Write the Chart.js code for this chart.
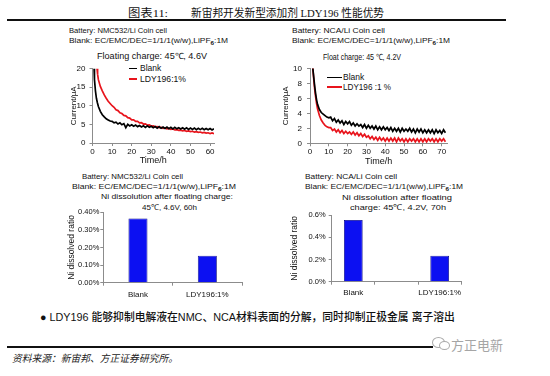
<!DOCTYPE html>
<html>
<head>
<meta charset="utf-8">
<script src="https://cdn.jsdelivr.net/npm/chart.js@4.4.1/dist/chart.umd.min.js"></script>
<style>
  html, body { margin: 0; padding: 0; background: #fff; }
  #page { position: relative; width: 550px; height: 376px; overflow: hidden; background: #fff;
    font-family: Arial, "Liberation Sans", sans-serif; color: #111; }
  .t { position: absolute; white-space: nowrap; line-height: 1; transform-origin: 0 50%; }
  .s8 { font-size: 8px; }
  .s85 { font-size: 8.5px; }
  sub { font-size: 6px; vertical-align: -1.5px; line-height: 0; font-weight: bold; }
  canvas { position: absolute; }
  .rule { position: absolute; background: #111; }
  .leg { position: absolute; height: 1.5px; }
  .cjk { font-family: "Noto Sans CJK SC", sans-serif; }
  .bub { position: absolute; border: 1.3px solid #aaa; border-radius: 50%; background: #fff; }
</style>
</head>
<body>
<div id="page">
  <!-- header -->
  <div class="t" style="left:128px;top:8px;font-size:11px;font-family:'Liberation Serif','Noto Sans CJK SC',serif" data-w="40">图表11:</div>
  <div class="t" style="left:190.5px;top:8px;font-size:11px;font-family:'Liberation Serif','Noto Sans CJK SC',serif" data-w="193">新宙邦开发新型添加剂 LDY196 性能优势</div>
  <div class="rule" style="left:7px;top:18.5px;width:499px;height:2px"></div>

  <!-- top-left block -->
  <div class="t s8" style="left:69px;top:27px" data-w="98">Battery: NMC532/Li Coin cell</div>
  <div class="t s8" style="left:69px;top:37px" data-w="159">Blank: EC/EMC/DEC=1/1/1(w/w),LiPF<sub>6</sub>:1M</div>
  <div class="t s85" style="left:97px;top:52px" data-w="110">Floating charge: 45℃,  4.6V</div>

  <!-- top-right block -->
  <div class="t s8" style="left:292px;top:27px" data-w="93">Battery: NCA/Li Coin cell</div>
  <div class="t s8" style="left:292px;top:37px" data-w="158">Blank: EC/EMC/DEC=1/1/1(w/w),LiPF<sub>6</sub>:1M</div>
  <div class="t s85" style="left:323px;top:53px" data-w="78">Float charge: 45 ℃, 4.2V</div>

  <!-- bottom-left block -->
  <div class="t s8" style="left:82px;top:173px" data-w="101">Battery: NMC532/Li Coin cell</div>
  <div class="t s8" style="left:72px;top:183px" data-w="164">Blank:  EC/EMC/DEC=1/1/1(w/w),LiPF<sub>6</sub>:1M</div>
  <div class="t s8" style="left:100.5px;top:193px" data-w="132">Ni dissolution after floating charge:</div>
  <div class="t s8" style="left:141.5px;top:204px" data-w="55">45℃, 4.6V, 60h</div>

  <!-- bottom-right block -->
  <div class="t s8" style="left:305px;top:173px" data-w="92">Battery: NCA/Li Coin cell</div>
  <div class="t s8" style="left:305px;top:183px" data-w="158">Blank: EC/EMC/DEC=1/1/1(w/w),LiPF<sub>6</sub>:1M</div>
  <div class="t s8" style="left:341.5px;top:193.5px" data-w="110">Ni dissolution after floating</div>
  <div class="t s8" style="left:350px;top:203.5px" data-w="96">charge: 45℃, 4.2V, 70h</div>

  <!-- legends -->
  <div class="leg" style="left:129px;top:67.8px;width:8px;background:#000"></div>
  <div class="t s85" style="left:140px;top:64.3px">Blank</div>
  <div class="leg" style="left:129px;top:78px;width:8px;background:#e8141c"></div>
  <div class="t s85" style="left:140px;top:74.5px" data-w="46">LDY196:1%</div>

  <div class="leg" style="left:326.5px;top:76.8px;width:15px;background:#000"></div>
  <div class="t s85" style="left:343px;top:73.3px">Blank</div>
  <div class="leg" style="left:326.5px;top:86.3px;width:15px;background:#e8141c"></div>
  <div class="t s85" style="left:343px;top:82.8px" data-w="48">LDY196 :1 %</div>

  <canvas id="c1" width="165" height="110" style="left:69px;top:56px"></canvas>
  <canvas id="c2" width="189" height="111" style="left:281px;top:56px"></canvas>
  <canvas id="c3" width="188" height="101" style="left:67px;top:200px"></canvas>
  <canvas id="c4" width="185" height="98" style="left:290px;top:203px"></canvas>

  <!-- footer -->
  <div class="t cjk" style="left:40px;top:312px;font-size:11px;font-weight:500;font-family:Arial,'Liberation Sans','Noto Sans CJK SC',sans-serif" data-w="415">● LDY196 能够抑制电解液在NMC、NCA材料表面的分解，同时抑制正极金属 离子溶出</div>
  <div class="rule" style="left:7px;top:346px;width:426px;height:1.5px"></div>
  <div class="t cjk" style="left:12px;top:352.5px;font-size:10px;font-style:italic;color:#222" data-w="166">资料来源：新宙邦、方正证券研究所。</div>
  <div class="bub" style="left:432px;top:337px;width:11px;height:9px"></div>
  <div class="bub" style="left:439px;top:341px;width:9px;height:7px"></div>
  <div class="t cjk" style="left:451px;top:337.5px;font-size:13px;color:#a5a5a5" data-w="52">方正电新</div>
</div>

<script>
// NMC532/Li, floating charge 45C 4.6V
const nmcBlankTime = [0.8, 1, 1.5, 2, 2.5, 3, 4, 5, 6, 7, 8, 9,
  10, 11, 12, 13, 14, 15, 16, 17, 18, 19, 20, 21, 22, 23, 24, 25, 26, 27, 28, 29, 30,
  31, 32, 33, 34, 35, 36, 37, 38, 39, 40, 41, 42, 43, 44, 45, 46, 47, 48, 49, 50,
  51, 52, 53, 54, 55, 56, 57, 58, 59, 60, 61, 62];
const nmcBlankCurrent = [20, 17, 14, 12, 10.8, 9.8, 8.5, 7.6, 7.0, 6.5, 6.2, 5.9,
  5.8, 5.4, 5.6, 5.1, 5.4, 4.9, 5.2, 4.1, 5.0, 4.6, 4.9, 4.5, 4.8, 4.4, 4.7, 4.3, 4.6, 4.2, 4.6, 4.2, 4.5,
  4.1, 4.4, 4.0, 4.4, 3.95, 4.3, 3.9, 4.3, 3.85, 4.2, 3.8, 4.2, 3.8, 4.1, 3.75, 4.1, 3.7, 4.05, 3.65, 4.0,
  3.65, 4.0, 3.6, 3.95, 3.6, 3.95, 3.55, 3.9, 3.55, 3.9, 3.5, 3.85];
const nmcLdyTime = [2.3, 2.6, 3, 4, 5, 6, 7, 8, 9, 10,
  11, 12, 13, 14, 15, 16, 17, 18, 19, 20, 21, 22, 23, 24, 25, 26, 27, 28, 29, 30,
  31, 32, 33, 34, 35, 36, 37, 38, 39, 40, 41, 42, 43, 44, 45, 46, 47, 48, 49, 50,
  51, 52, 53, 54, 55, 56, 57, 58, 59, 60, 61, 62];
const nmcLdyCurrent = [20, 18.5, 17, 15.2, 14, 12.9, 12, 11.2, 10.6, 10.0,
  9.6, 8.9, 8.7, 8.1, 7.9, 7.4, 7.3, 6.8, 6.7, 6.2, 6.2, 5.8, 5.8, 5.4, 5.45, 5.1, 5.15, 4.8, 4.85, 4.55,
  4.6, 4.35, 4.4, 4.15, 4.2, 3.95, 4.05, 3.8, 3.9, 3.65, 3.75, 3.5, 3.6, 3.4, 3.45, 3.25, 3.35, 3.15, 3.25, 3.05,
  3.15, 2.95, 3.05, 2.85, 2.95, 2.75, 2.85, 2.65, 2.75, 2.55, 2.7, 2.5];

// NCA/Li, float charge 45C 4.2V
const ncaBlankTime = [1.5, 2, 2.5, 3, 3.5, 4, 5, 6, 7, 8, 9, 10,
  11, 12, 13, 14, 15, 16, 17, 18, 19, 20, 21, 22, 23, 24, 25, 26, 27, 28, 29, 30,
  31, 32, 33, 34, 35, 36, 37, 38, 39, 40, 41, 42, 43, 44, 45, 46, 47, 48, 49, 50,
  51, 52, 53, 54, 55, 56, 57, 58, 59, 60, 61, 62, 63, 64, 65, 66, 67, 68, 69, 70, 71, 72];
const ncaBlankCurrent = [10, 8.8, 7.6, 6.6, 5.8, 5.2, 4.5, 4.1, 3.9, 3.7, 3.5, 3.4,
  3.5, 3.0, 3.3, 2.8, 3.1, 2.7, 3.0, 2.5, 2.9, 2.6, 2.9, 2.4, 2.7, 2.3, 2.6, 2.3, 2.5, 2.1, 2.5, 2.0,
  2.4, 2.0, 2.3, 1.9, 2.3, 1.8, 2.2, 1.8, 2.2, 1.8, 2.1, 1.7, 2.1, 1.6, 2.0, 1.6, 2.0, 1.5, 2.0, 1.6,
  1.9, 1.6, 2.0, 1.5, 1.9, 1.4, 1.9, 1.5, 1.9, 1.4, 1.8, 1.4, 1.8, 1.4, 1.8, 1.3, 1.8, 1.4, 1.7, 1.3, 1.8, 1.4];
const ncaLdyTime = ncaBlankTime;
const ncaLdyCurrent = [10, 8.5, 7.2, 6.2, 5.3, 4.6, 3.7, 3.1, 2.7, 2.4, 2.2, 2.1,
  2.1, 1.7, 1.9, 1.5, 1.8, 1.4, 1.7, 1.3, 1.6, 1.3, 1.5, 1.2, 1.5, 1.1, 1.4, 1.0, 1.3, 0.9, 1.2, 0.8,
  1.0, 0.6, 0.9, 0.5, 0.8, 0.4, 0.8, 0.4, 0.7, 0.3, 0.7, 0.3, 0.7, 0.3, 0.7, 0.2, 0.7, 0.3, 0.6, 0.2,
  0.6, 0.2, 0.6, 0.3, 0.6, 0.2, 0.6, 0.2, 0.6, 0.2, 0.6, 0.2, 0.6, 0.3, 0.6, 0.2, 0.6, 0.2, 0.6, 0.3, 0.6, 0.2];

// Ni dissolved ratio (%)
const nmcBarLabels = ["Blank", "LDY196:1%"];
const nmcBarValues = [0.365, 0.153];
const ncaBarLabels = ["Blank", "", "LDY196:1%"];
const ncaBarValues = [0.555, null, 0.234];

Chart.defaults.font.family = 'Arial, "Liberation Sans", sans-serif';
Chart.defaults.font.size = 8;
Chart.defaults.color = "#111";
Chart.defaults.animation = false;

const axisGray = "#8c8c8c";
const blankColor = "#000000";
const ldyColor = "#e8141c";

function toPoints(t, v) {
  return t.map((x, i) => ({ x: x, y: v[i] }));
}

// box: yWidth, xHeight, padTop, padRight, yPad
function lineChart(id, box, blank, ldy, xMax, yMax, yStep) {
  return new Chart(document.getElementById(id), {
    type: "line",
    data: {
      datasets: [
        { label: "Blank", data: blank, borderColor: blankColor, borderWidth: 1.7, pointRadius: 0, tension: 0 },
        { label: "LDY196:1%", data: ldy, borderColor: ldyColor, borderWidth: 1.7, pointRadius: 0, tension: 0 },
      ],
    },
    options: {
      responsive: false,
      devicePixelRatio: 1,
      events: [],
      layout: { padding: { top: box.padTop, right: box.padRight, left: 0, bottom: 0 } },
      plugins: { legend: { display: false }, tooltip: { enabled: false } },
      scales: {
        x: {
          type: "linear",
          min: 0,
          max: xMax,
          ticks: { stepSize: 10, includeBounds: false, padding: 1, maxRotation: 0 },
          grid: { drawOnChartArea: false, tickLength: 3, color: axisGray },
          border: { color: axisGray },
          title: { display: true, text: "Time/h", font: { size: 9 }, padding: 0 },
          afterFit: (s) => { s.height = box.xHeight; },
        },
        y: {
          min: 0,
          max: yMax,
          ticks: { stepSize: yStep, padding: box.yPad },
          grid: { drawOnChartArea: false, tickLength: 3, color: axisGray },
          border: { color: axisGray },
          title: { display: true, text: "Current/μA", font: { size: 8 }, padding: 0 },
          afterFit: (s) => { s.width = box.yWidth; },
        },
      },
    },
  });
}

function barChart(id, box, labels, values, yMax, digits) {
  return new Chart(document.getElementById(id), {
    type: "bar",
    data: {
      labels: labels,
      datasets: [
        {
          data: values,
          backgroundColor: "#0c10f2",
          borderColor: "#00007a",
          borderWidth: 0.8,
          categoryPercentage: 1,
          barPercentage: box.barPct,
        },
      ],
    },
    options: {
      responsive: false,
      devicePixelRatio: 1,
      events: [],
      layout: { padding: { top: box.padTop, right: box.padRight, left: 0, bottom: 0 } },
      plugins: { legend: { display: false }, tooltip: { enabled: false } },
      scales: {
        x: {
          ticks: { padding: box.xPad, maxRotation: 0, autoSkip: false },
          grid: { drawOnChartArea: false, tickLength: 3, color: axisGray },
          border: { color: axisGray },
          afterFit: (s) => { s.height = box.xHeight; },
        },
        y: {
          min: 0,
          max: yMax,
          ticks: { stepSize: 0.1, padding: box.yPad, font: { size: 7.5 },
            callback: (v) => v.toFixed(digits) + "%" },
          grid: { drawOnChartArea: false, tickLength: 3, color: axisGray },
          border: { color: axisGray },
          title: { display: true, text: "Ni dissolved ratio", font: { size: 8.5 }, padding: 0 },
          afterFit: (s) => { s.width = box.yWidth; },
        },
      },
    },
  });
}

lineChart("c1", { yWidth: 23.5, xHeight: 23, padTop: 12.5, padRight: 20, yPad: 4 },
  toPoints(nmcBlankTime, nmcBlankCurrent), toPoints(nmcLdyTime, nmcLdyCurrent), 62, 20, 5);
lineChart("c2", { yWidth: 29, xHeight: 23.7, padTop: 12.3, padRight: 22.7, yPad: 5 },
  toPoints(ncaBlankTime, ncaBlankCurrent), toPoints(ncaLdyTime, ncaLdyCurrent), 73, 10, 2);
barChart("c3", { yWidth: 36.3, xHeight: 18.3, padTop: 12.3, padRight: 13, yPad: 1, xPad: 4, barPct: 0.274 },
  nmcBarLabels, nmcBarValues, 0.4, 2);
barChart("c4", { yWidth: 41.7, xHeight: 19.3, padTop: 12, padRight: 13.7, yPad: 3, xPad: 3, barPct: 0.433 },
  ncaBarLabels, ncaBarValues, 0.6, 1);

// squeeze the html labels to the widths measured on the reference
document.querySelectorAll("[data-w]").forEach((el) => {
  const w = parseFloat(el.dataset.w);
  const real = el.getBoundingClientRect().width;
  if (real > 0) el.style.transform = "scaleX(" + (w / real).toFixed(3) + ")";
});
</script>
</body>
</html>
